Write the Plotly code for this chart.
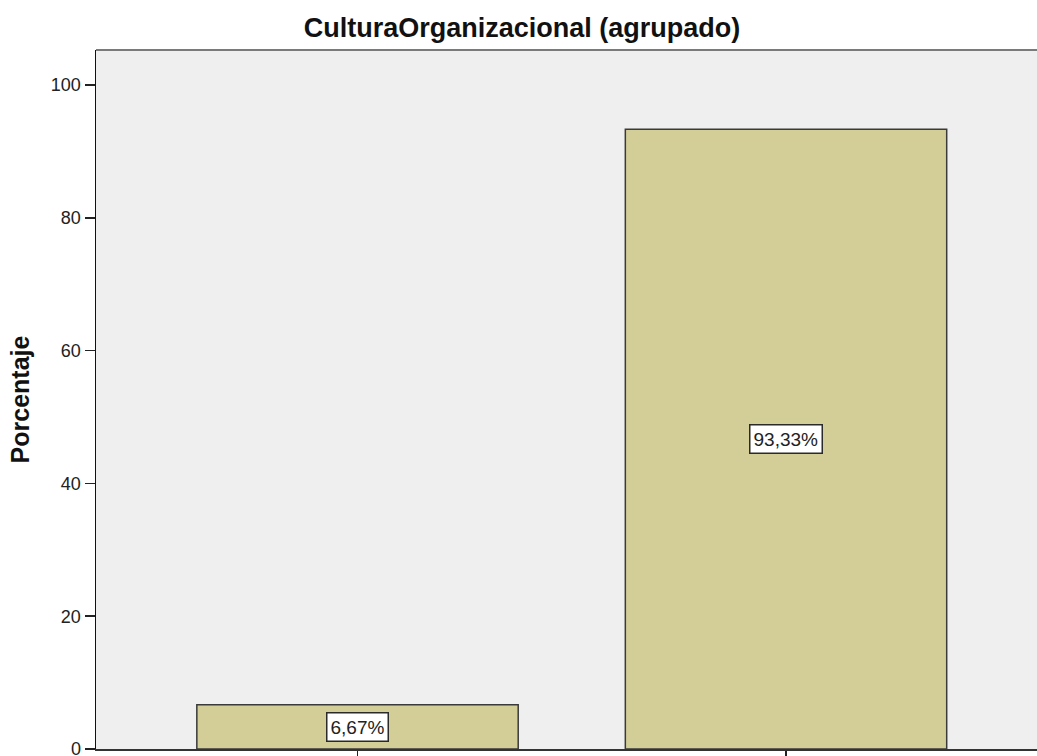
import plotly.graph_objects as go

categories = ["Medio", "Alto"]
percentages = [6.67, 93.33]
y_ticks = [0, 20, 40, 60, 80, 100]
title_text = "CulturaOrganizacional (agrupado)"
y_title = "Porcentaje"

labels = [f"{v:.2f}".replace(".", ",") + "%" for v in percentages]

W, H = 1055, 770
L, R, T, B = 96, 0, 50, 21
plot_w = W - L - R
plot_h = H - T - B
px_per_cat = 428.5
px_per_unit = 6.64
x_start = -0.6103

fig = go.Figure()
fig.add_trace(go.Bar(
    x=list(range(len(categories))),
    y=percentages,
    width=0.75,
    marker=dict(color="#D3CE97", line=dict(color="#3a3a3a", width=1.5)),
    hoverinfo="skip",
    showlegend=False,
))

for i, (v, lab) in enumerate(zip(percentages, labels)):
    fig.add_annotation(
        x=i, y=v / 2, xref="x", yref="y", text=lab, showarrow=False,
        bgcolor="white", bordercolor="#2a2a2a", borderwidth=1.5, borderpad=3,
        font=dict(family="Liberation Sans, Arial", size=19, color="#222222"),
    )

# top border of plot area
fig.add_shape(type="line", xref="paper", yref="paper", x0=0, x1=1, y0=1, y1=1,
              line=dict(color="#7a7a7a", width=2))

fig.update_layout(
    width=W, height=H,
    margin=dict(l=L, r=R, t=T, b=B),
    paper_bgcolor="white",
    plot_bgcolor="#EFEFEF",
    title=dict(text=title_text, x=(522 - L) / plot_w, xref="paper", xanchor="center",
               y=(H - 28) / H, yref="container", yanchor="middle",
               font=dict(family="Liberation Sans, Arial", size=27, color="#111111",
                         weight="bold")),
    xaxis=dict(
        tickmode="array", tickvals=list(range(len(categories))), ticktext=categories,
        showticklabels=False, range=[x_start, x_start + plot_w / px_per_cat],
        ticks="outside", ticklen=10, tickwidth=1.5, tickcolor="#222222",
        showline=True, linecolor="#333333", linewidth=1.5,
        showgrid=False, zeroline=False,
    ),
    yaxis=dict(
        range=[0, plot_h / px_per_unit], tickvals=y_ticks,
        ticks="outside", ticklen=10, tickwidth=1.5, tickcolor="#222222",
        ticklabeloverflow="allow",
        showline=True, linecolor="#111111", linewidth=1.5,
        showgrid=False, zeroline=False,
        tickfont=dict(family="Liberation Sans, Arial", size=18, color="#222222"),
        title=dict(text=y_title, standoff=14,
                   font=dict(family="Liberation Sans, Arial", size=25, color="#111111",
                             weight="bold")),
    ),
)

fig.write_html(
    "out.html",
    config={"displayModeBar": False, "staticPlot": True},
    post_script="document.body.style.margin='0';document.body.style.overflow='hidden';"
                "document.documentElement.style.overflow='hidden';",
)
